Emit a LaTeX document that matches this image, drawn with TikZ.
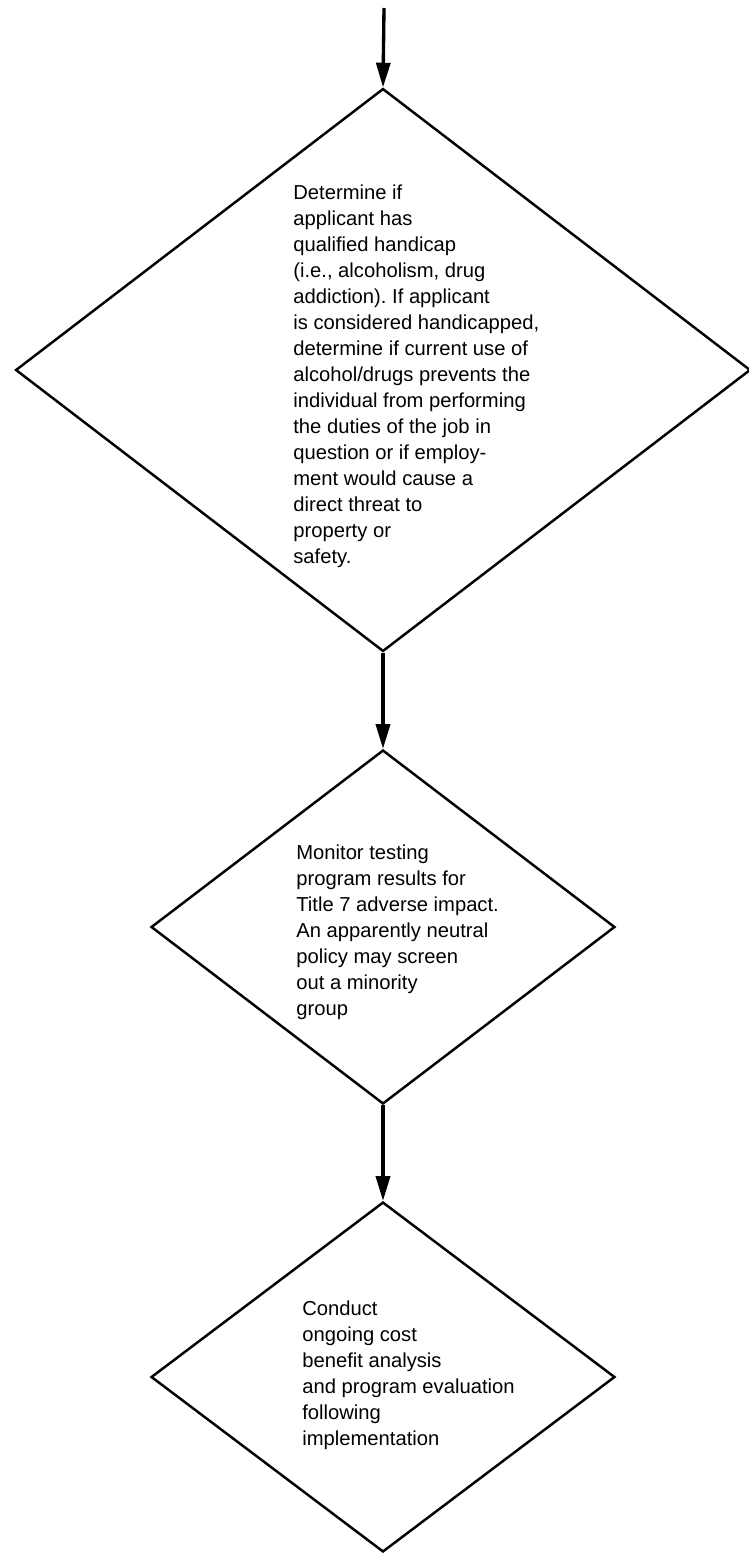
\documentclass[tikz,border=0pt]{standalone}
\usepackage{fontspec}
\setmainfont{Liberation Sans}
\usetikzlibrary{shapes.geometric,arrows.meta}
\frenchspacing
\begin{document}
\begin{tikzpicture}[x=0.02cm,y=-0.02cm,
  box/.style={draw,shape=diamond,line width=1.4pt,inner sep=0pt},
  txt/.style={anchor=west,align=left,inner sep=0pt,font=\fontsize{11.5}{14.8}\selectfont},
  flow/.style={line width=1.9pt,-{Triangle[length=14pt,width=8pt]}}]
\useasboundingbox (0,0) rectangle (748,1556);
\coordinate (in) at (384,8);
\node [box,minimum width=14.7cm,minimum height=11.26cm] (d1) at (383,370) {};
\node [box,minimum width=9.28cm,minimum height=7.08cm] (d2) at (383,927) {};
\node [box,minimum width=9.28cm,minimum height=7cm] (d3) at (383,1377) {};
\node [txt] (t1) at (293,376) {Determine if\\applicant has\\qualified handicap\\(i.e., alcoholism, drug\\addiction). If applicant\\is considered handicapped,\\determine if current use of\\alcohol/drugs prevents the\\individual from performing\\the duties of the job in\\question or if employ-\\ment would cause a\\direct threat to\\property or\\safety.};
\node [txt] (t2) at (296,932) {Monitor testing\\program results for\\Title 7 adverse impact.\\An apparently neutral\\policy may screen\\out a minority\\group};
\node [txt] (t3) at (302,1375) {Conduct\\ongoing cost\\benefit analysis\\and program evaluation\\following\\implementation};
\draw [flow] (in) -- (d1.north);
\draw [flow] (d1.south) -- (d2.north);
\draw [flow] (d2.south) -- (d3.north);
\end{tikzpicture}
\end{document}
